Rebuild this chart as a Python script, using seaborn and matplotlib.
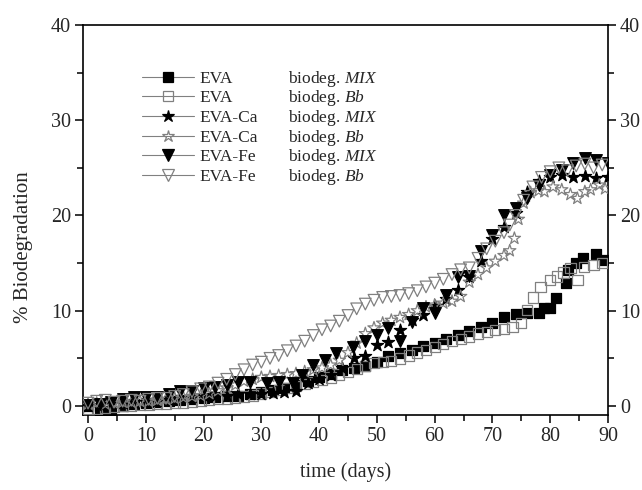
import numpy as np
import pandas as pd
import seaborn as sns
import matplotlib.pyplot as plt
from matplotlib.lines import Line2D
from matplotlib.ticker import MultipleLocator

# EVA, biodeg. MIX (filled squares)
eva_mix_days = [0, 2, 4, 6, 8, 10, 12, 14, 16, 18, 20, 22, 24, 26, 28, 30, 32, 34, 36, 38,
                40, 42, 44, 46, 48, 50, 52, 54, 56, 58, 60, 62, 64, 66, 68, 70, 72, 74, 76,
                78, 79, 80, 81, 82.7, 83, 84.4, 85.6, 87.9, 89.3]
eva_mix_vals = [0.0, -0.4, -0.5, 0.0, 0.2, 0.3, 0.4, 0.5, 0.6, 0.7, 0.8, 0.9, 1.0, 1.1, 1.3,
                1.5, 1.7, 1.9, 2.2, 2.6, 3.0, 3.4, 3.8, 4.0, 4.2, 4.6, 5.2, 5.6, 5.9, 6.3, 6.6,
                7.0, 7.4, 7.9, 8.3, 8.7, 9.3, 9.7, 9.8, 9.8, 10.3, 10.3, 11.3, 12.9, 14.3, 15.0,
                15.5, 16.0, 15.3]

# EVA, biodeg. Bb (open squares)
eva_bb_days = [0, 1.5, 3, 4.5, 6, 7.5, 9, 10.5, 12, 13.5, 15, 16.5, 18, 19.5, 21, 22.5, 24,
               25.5, 27, 28.5, 30, 31.5, 33, 34.5, 36, 37.5, 39, 40.5, 42, 43.5, 45, 46.5, 48,
               49.5, 51, 52.5, 54, 55.5, 57, 58.5, 60, 61.5, 63, 64.5, 66, 67.5, 69, 70.5, 72,
               73.5, 75, 76, 77, 78.3, 80, 81.2, 82.3, 83.5, 84.7, 85.8, 87.5, 89]
eva_bb_vals = [-0.3, -0.3, -0.2, -0.1, 0.0, 0.0, 0.1, 0.1, 0.2, 0.2, 0.3, 0.3, 0.4, 0.5, 0.6,
               0.7, 0.8, 0.9, 1.0, 1.1, 1.3, 1.5, 1.7, 1.9, 2.1, 2.3, 2.5, 2.7, 3.0, 3.3, 3.6,
               3.9, 4.2, 4.5, 4.6, 4.7, 5.0, 5.3, 5.6, 5.9, 6.2, 6.5, 6.8, 7.0, 7.3, 7.6, 7.8,
               8.0, 8.1, 8.3, 8.7, 10.1, 11.4, 12.5, 13.2, 13.6, 14.0, 14.5, 13.2, 14.6, 14.8,
               15.0]

# EVA-Ca, biodeg. MIX (filled stars)
ca_mix_days = [0, 2, 4, 6, 8, 10, 12, 14, 16, 18, 20, 22, 24, 26, 28, 30, 32, 34, 36, 38, 40,
               42, 44, 46, 48, 50, 52, 54, 56, 58, 60, 62, 64, 66, 68, 70, 72, 74, 76, 78, 80,
               82, 84, 86, 88, 90]
ca_mix_vals = [0.0, 0.1, 0.2, 0.3, 0.4, 0.4, 0.5, 0.6, 0.8, 0.9, 1.0, 1.0, 1.1, 1.3, 1.3, 1.3,
               1.4, 1.5, 1.6, 2.4, 2.8, 3.3, 4.0, 5.0, 5.3, 6.4, 6.7, 8.0, 9.0, 9.6, 10.5, 11.2,
               12.2, 13.5, 15.2, 17.5, 18.8, 20.3, 22.5, 23.6, 24.0, 24.3, 24.0, 24.1, 23.9, 24.0]

# EVA-Ca, biodeg. Bb (open stars)
ca_bb_days = [0, 1.5, 3, 4.5, 6, 7.5, 9, 10.5, 12, 13.5, 15, 16.5, 18, 19.5, 21, 22.5, 24,
              25.5, 27, 28.5, 30, 31.5, 33, 34.5, 36, 37.5, 39, 40.5, 42, 43.5, 45, 46.5, 48,
              49.5, 51, 52.5, 54, 55.5, 57, 58.5, 60, 61.5, 63, 64.5, 66, 67.5, 69, 70.5, 72,
              73, 73.8, 74.5, 75.4, 76.6, 78, 79, 80.5, 82, 83.5, 84.7, 86, 87, 88.5, 89.5]
ca_bb_vals = [0.2, 0.3, 0.2, 0.3, 0.4, 0.4, 0.5, 0.5, 0.6, 0.7, 0.8, 0.9, 1.0, 1.1, 1.3, 1.6,
              1.9, 2.2, 2.6, 2.8, 3.0, 3.1, 3.2, 3.3, 3.4, 3.6, 3.8, 4.0, 4.3, 4.8, 5.6, 6.6,
              7.6, 8.2, 8.7, 9.0, 9.3, 9.6, 10.0, 10.4, 10.6, 10.8, 11.0, 11.5, 13.0, 13.8,
              14.5, 15.2, 15.8, 16.3, 17.6, 19.6, 21.3, 22.4, 22.6, 22.5, 23.0, 22.7, 22.2,
              21.8, 22.5, 22.7, 23.2, 22.8]

# EVA-Fe, biodeg. MIX (filled triangles)
fe_mix_days = [0, 2, 4, 6, 8, 10, 12, 14, 16, 18, 20, 22, 24, 26, 28, 31, 33, 35.5, 37, 39,
               41, 43, 45.8, 48, 50, 52, 54, 56, 58, 60, 62, 64, 66, 68, 70, 72, 74, 76, 78,
               80, 82, 84, 86, 88, 90]
fe_mix_vals = [0.1, 0.2, 0.4, 0.7, 0.9, 0.9, 0.9, 1.3, 1.6, 1.6, 1.9, 2.0, 2.2, 2.5, 2.5, 2.4,
               2.5, 2.4, 3.3, 4.3, 4.8, 5.6, 6.2, 6.8, 7.5, 8.2, 6.8, 8.8, 10.3, 9.8, 11.6, 13.5,
               13.6, 16.3, 18.0, 20.0, 20.8, 21.8, 23.2, 24.3, 24.8, 25.5, 26.0, 25.8, 25.5]

# EVA-Fe, biodeg. Bb (open triangles)
fe_bb_days = [0, 1.5, 3, 4.5, 6, 7.5, 9, 10.5, 12, 13.5, 15, 16.5, 18, 19.5, 21, 22.5, 24,
              25.5, 27, 28.5, 30, 31.5, 33, 34.5, 36, 37.5, 39, 40.5, 42, 43.5, 45, 46.5, 48,
              49.5, 51, 52.5, 54, 55.5, 57, 58.5, 60, 61.5, 63, 64.5, 66, 67.5, 69, 70.5, 72,
              73, 74, 75.4, 77, 78.5, 80, 81.5, 83, 84.5, 86, 87.5, 89]
fe_bb_vals = [0.3, 0.5, 0.6, 0.4, 0.5, 0.6, 0.5, 0.7, 0.8, 0.8, 1.0, 1.2, 1.5, 1.8, 2.0, 2.4,
              2.8, 3.3, 3.8, 4.3, 4.6, 5.0, 5.3, 5.8, 6.3, 6.8, 7.4, 8.0, 8.4, 8.9, 9.5, 10.2,
              10.7, 11.1, 11.4, 11.5, 11.6, 11.8, 12.1, 12.5, 12.9, 13.3, 13.8, 14.3, 14.5,
              15.5, 16.5, 17.3, 18.2, 19.0, 20.0, 21.6, 23.0, 24.0, 24.6, 25.0, 24.7, 25.2,
              25.4, 25.0, 25.3]

names = ['EVA', 'EVA', 'EVA-Ca', 'EVA-Ca', 'EVA-Fe', 'EVA-Fe']
media = ['MIX', 'Bb', 'MIX', 'Bb', 'MIX', 'Bb']

sns.set_style('ticks')
plt.rcParams['font.family'] = ['Liberation Serif', 'DejaVu Serif']
plt.rcParams['mathtext.fontset'] = 'custom'
plt.rcParams['mathtext.it'] = 'Liberation Serif:italic'
plt.rcParams['mathtext.rm'] = 'Liberation Serif'

fig = plt.figure(figsize=(6.42, 4.9), dpi=100)
ax = fig.add_axes([0.129, 0.153, 0.818, 0.796])

gray = '0.5'
series = [
    (eva_mix_days, eva_mix_vals, 's', 55, 'black', 'black'),
    (eva_bb_days, eva_bb_vals, 's', 55, 'none', gray),
    (ca_mix_days, ca_mix_vals, '*', 85, 'black', 'black'),
    (ca_bb_days, ca_bb_vals, '*', 85, 'none', gray),
    (fe_mix_days, fe_mix_vals, 'v', 70, 'black', 'black'),
    (fe_bb_days, fe_bb_vals, 'v', 70, 'none', gray),
]
for d, v, m, s, fc, ec in series:
    sns.scatterplot(x=d, y=v, marker=m, s=s, facecolor=fc, edgecolor=ec,
                    linewidth=0.9, ax=ax, zorder=3)

ax.set_xlim(-0.9, 90)
ax.set_ylim(-0.95, 40)
ax.xaxis.set_major_locator(MultipleLocator(10))
ax.xaxis.set_minor_locator(MultipleLocator(5))
ax.yaxis.set_major_locator(MultipleLocator(10))
ax.yaxis.set_minor_locator(MultipleLocator(5))
ax.tick_params(which='both', direction='out', right=True, labelright=True, top=False,
               labelsize=14.5, width=1.1, color='black', pad=2.5)
ax.tick_params(which='major', length=6)
ax.tick_params(which='minor', length=4)
for sp in ax.spines.values():
    sp.set_visible(True)
    sp.set_linewidth(1.2)
    sp.set_color('black')

ax.set_xlabel('time (days)', fontsize=14.5, labelpad=12)
ax.set_ylabel('% Biodegradation', fontsize=15, labelpad=8)
ax.yaxis.set_label_coords(-0.095, 0.43)

handles = []
for i, (d, v, m, s, fc, ec) in enumerate(series):
    ms = 7 if m == 's' else (9 if m == '*' else 8)
    handles.append(Line2D([], [], color=gray, lw=0.8, marker=m, markersize=ms,
                          markerfacecolor=fc, markeredgecolor=ec, markeredgewidth=0.9))
leg = ax.legend(handles, names, loc='upper left', bbox_to_anchor=(0.113, 0.883), frameon=False,
                fontsize=12.5, handlelength=3.0, handletextpad=0.3, labelspacing=0.2,
                borderaxespad=0, borderpad=0)

fig.canvas.draw()
inv = ax.transAxes.inverted()
for txt, med in zip(leg.get_texts(), media):
    bb = txt.get_window_extent()
    yc = inv.transform(((bb.x0 + bb.x1) / 2, (bb.y0 + bb.y1) / 2))[1]
    ax.text(0.391, yc, 'biodeg. $\\mathit{' + med + '}$', transform=ax.transAxes,
            fontsize=12.5, va='center', ha='left')

fig.savefig('out.png', dpi=100)
